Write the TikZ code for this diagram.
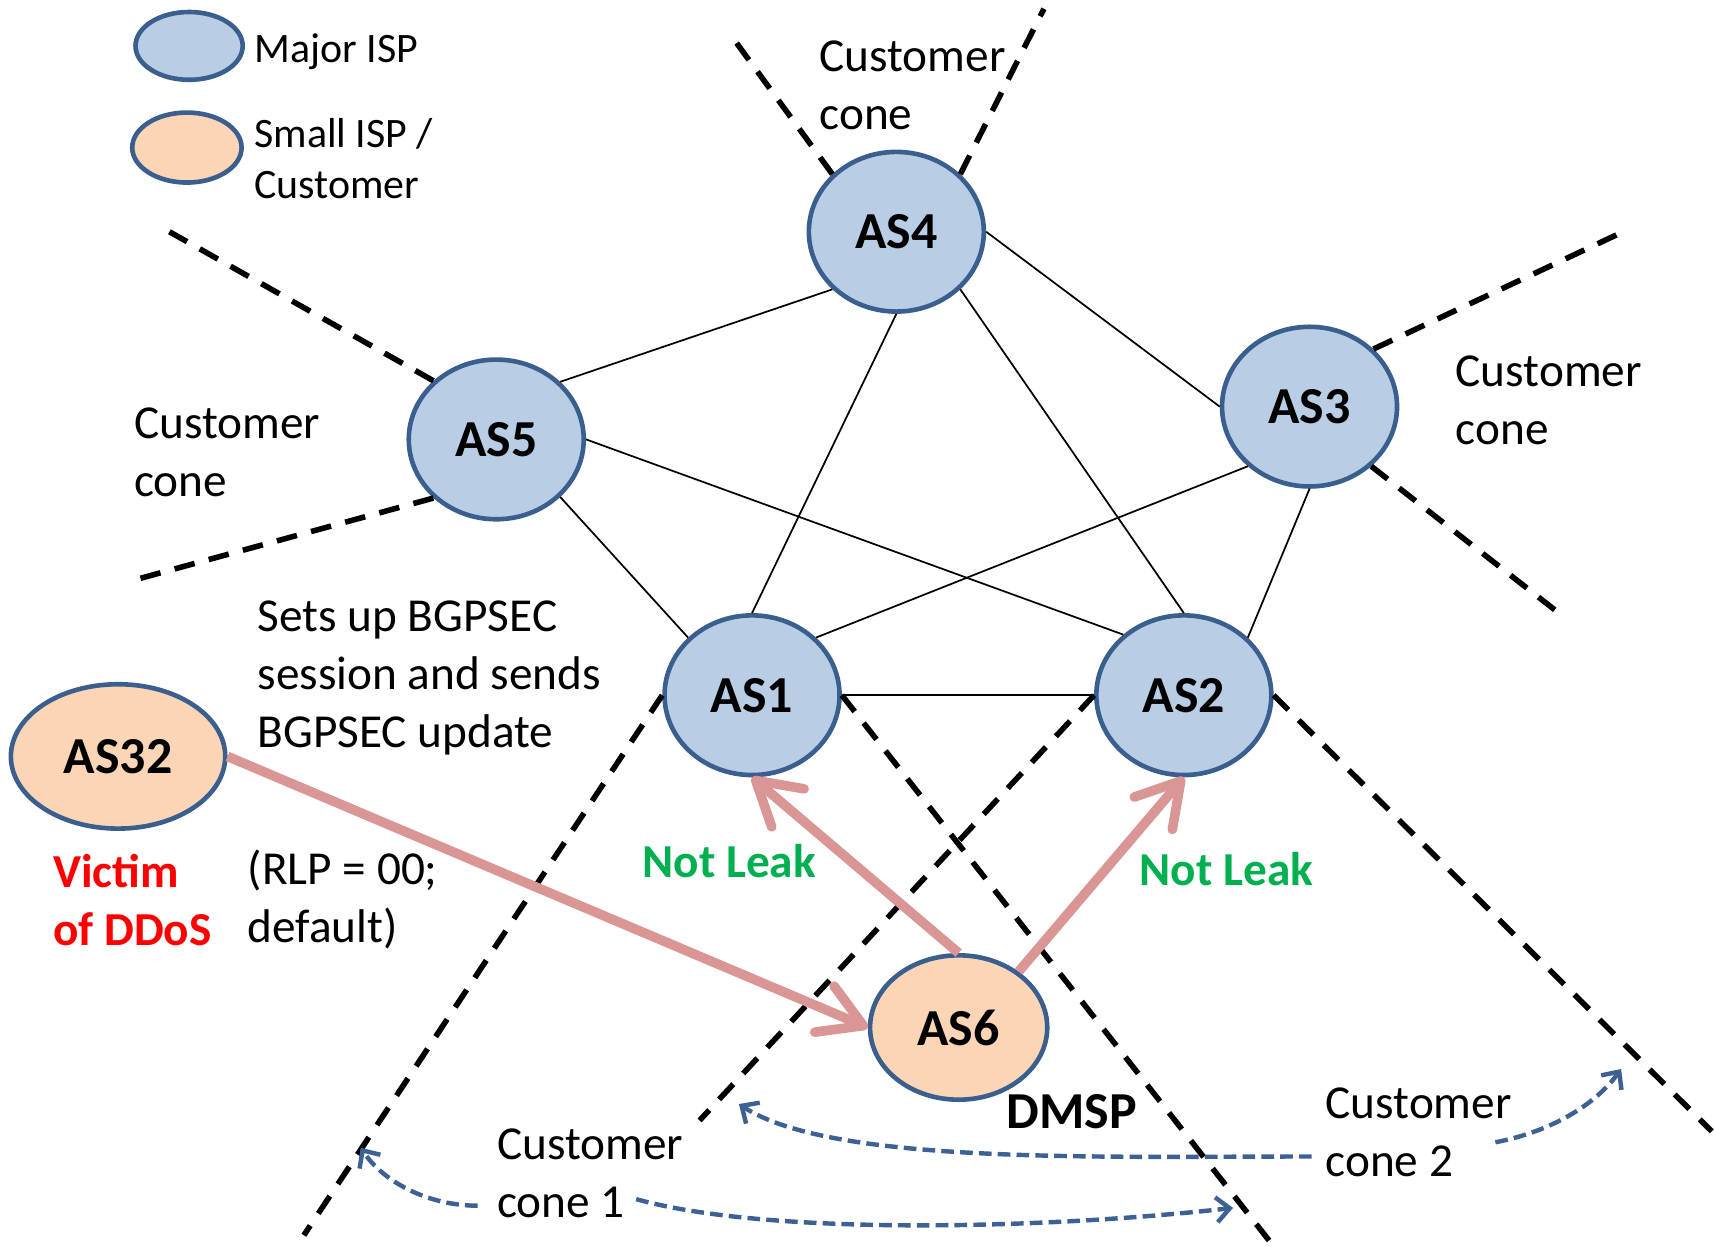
\documentclass[tikz,border=0pt]{standalone}
\usepackage{fontspec}
\setmainfont{Carlito}
\usetikzlibrary{arrows.meta,shapes.geometric}
\definecolor{majorfill}{HTML}{B9CDE5}
\definecolor{smallfill}{HTML}{FBD5B5}
\definecolor{bordercol}{HTML}{3A5F8E}
\definecolor{pinkcol}{HTML}{D99694}
\definecolor{greencol}{HTML}{00B050}
\definecolor{redcol}{HTML}{FF0000}
\definecolor{bluecol}{HTML}{3D6194}
\begin{document}
\begin{tikzpicture}[x=0.01cm,y=-0.01cm,
  major/.style={ellipse, draw=bordercol, line width=1.2pt, fill=majorfill, inner sep=0pt,
    minimum width=1.60cm, minimum height=1.46cm, font=\fontsize{13.5}{16}\selectfont\bfseries},
  small/.style={major, fill=smallfill},
  txt/.style={anchor=west, align=left, inner sep=0pt, font=\fontsize{12.3}{15.1}\selectfont},
  legtxt/.style={anchor=west, align=left, inner sep=0pt, font=\fontsize{10.9}{13.1}\selectfont},
  edge/.style={line width=0.45pt},
  cone/.style={line width=1.45pt, dash pattern=on 5.4pt off 3.8pt},
  pinkarrow/.style={draw=pinkcol, line width=2.5pt, -{Straight Barb[length=11pt,width=13pt,round]}},
  bluearrow/.style={draw=bluecol, line width=1.15pt, dash pattern=on 3.3pt off 1.6pt, -{Straight Barb[length=3.5pt,width=6.5pt]}}
]
\useasboundingbox (0,0) rectangle (1568,1140);

% legend
\node[major, minimum width=0.98cm, minimum height=0.62cm] (legmaj) at (173,42) {};
\node[legtxt] (legmajt) at (232,47) {Major ISP};
\node[small, minimum width=1.00cm, minimum height=0.64cm] (legsmall) at (171,135) {};
\node[legtxt] (legsmallt) at (232,145) {Small ISP /\\Customer};

% AS nodes
\node[major] (AS4) at (820,212) {AS4};
\node[major] (AS5) at (454,402) {AS5};
\node[major] (AS3) at (1198,372) {AS3};
\node[major] (AS1) at (688,636) {AS1};
\node[major] (AS2) at (1083,636) {AS2};
\node[small, minimum width=1.96cm, minimum height=1.32cm] (AS32) at (108,692) {AS32};
\node[small, minimum width=1.62cm, minimum height=1.32cm] (AS6) at (877,940) {AS6};

% peering edges
\draw[edge] (AS5.42) -- (AS4.222);
\draw[edge] (AS4.south) -- (AS1.north);
\draw[edge] (AS4.-42) -- (AS2.north);
\draw[edge] (AS4.east) -- (AS3.west);
\draw[edge] (AS5.east) -- (AS2.135);
\draw[edge] (AS5.-42) -- (AS1.138);
\draw[edge] (AS3.224) -- (AS1.42);
\draw[edge] (AS3.south) -- (AS2.42);
\draw[edge] (AS1.east) -- (AS2.west);

% customer cone boundaries
\coordinate (c4l) at (667,30);
\coordinate (c4r) at (955,8);
\coordinate (c5u) at (155,212);
\coordinate (c5d) at (125,530);
\coordinate (c3u) at (1485,212);
\coordinate (c3d) at (1425,560);
\coordinate (c1l) at (278,1130);
\coordinate (c1r) at (1165,1140);
\coordinate (c2l) at (640,1025);
\coordinate (c2r) at (1566,1035);
\draw[cone] (AS4.138) -- (c4l);
\draw[cone] (AS4.42) -- (c4r);
\draw[cone] (AS5.137) -- (c5u);
\draw[cone] (AS5.223) -- (c5d);
\draw[cone] (AS3.42) -- (c3u);
\draw[cone] (AS3.-44) -- (c3d);
\draw[cone] (AS1.west) -- (c1l);
\draw[cone] (AS1.east) -- (c1r);
\draw[cone] (AS2.west) -- (c2l);
\draw[cone] (AS2.east) -- (c2r);

% texts
\node[txt] (t4) at (749,78) {Customer\\cone};
\node[txt] (t5) at (122,414) {Customer\\cone};
\node[txt] (t3) at (1331,366) {Customer\\cone};
\node[txt] (tsets) at (235,620) {Sets up BGPSEC\\session and sends\\BGPSEC update};
\node[txt, text=redcol, font=\fontsize{12.3}{15.1}\selectfont\bfseries] (tvictim) at (48,823) {Victim\\of DDoS};
\node[txt] (trlp) at (226,823) {(RLP = 00;\\default)};
\node[txt, text=greencol, font=\fontsize{12.3}{15.1}\selectfont\bfseries] (tleak1) at (587,788) {Not Leak};
\node[txt, text=greencol, font=\fontsize{12.3}{15.1}\selectfont\bfseries] (tleak2) at (1042,795) {Not Leak};
\node[txt, font=\fontsize{13.5}{16}\selectfont\bfseries] (tdmsp) at (920,1017) {DMSP};
\node[txt] (tcone1) at (454,1073) {Customer\\cone 1};
\node[txt] (tcone2) at (1212,1036) {Customer\\cone 2};

% pink arrows
\draw[pinkarrow] (AS32.east) -- (AS6.west);
\draw[pinkarrow] (AS6.north) -- (AS1.south);
\draw[pinkarrow] (AS6.43) -- (AS2.south);

% blue dashed arrows
\coordinate (b1s) at (582,1097);
\coordinate (b1e) at (1128,1105);
\coordinate (b2s) at (437,1103);
\coordinate (b2e) at (330,1050);
\coordinate (b3s) at (1200,1058);
\coordinate (b3e) at (676,1010);
\coordinate (b4s) at (1368,1045);
\coordinate (b4e) at (1483,978);
\draw[bluearrow] (b1s) .. controls (700,1130) and (950,1125) .. (b1e);
\draw[bluearrow] (b2s) .. controls (390,1103) and (350,1080) .. (b2e);
\draw[bluearrow] (b3s) .. controls (1000,1058) and (760,1065) .. (b3e);
\draw[bluearrow] (b4s) .. controls (1420,1035) and (1460,1010) .. (b4e);
\end{tikzpicture}
\end{document}
